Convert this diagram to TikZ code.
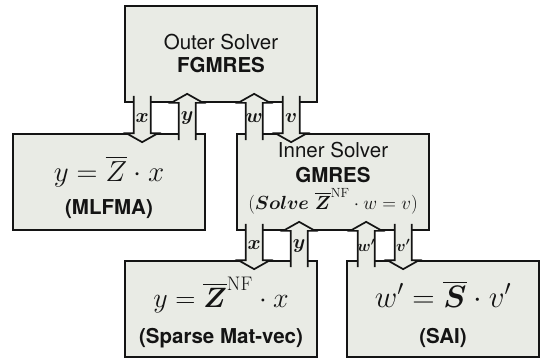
\RequirePackage{fix-cm}
\documentclass[tikz,border=0pt]{standalone}
\usepackage{amsmath,bm}
\usepackage{fontspec}
\setsansfont{TeX Gyre Heros}
\usetikzlibrary{calc}
\definecolor{boxfill}{HTML}{E9EBE5}
\definecolor{ink}{HTML}{141414}
\tikzset{
  every node/.style={text=ink, inner sep=0pt},
  solver/.style={draw=ink, line width=1.7pt, fill=boxfill,
                 minimum width=192pt, minimum height=96pt},
  pipe/.style={draw=ink, line width=1.7pt, fill=boxfill, line join=miter},
  txt/.style={anchor=base, font=\sffamily\fontsize{20.5}{23}\selectfont},
  txtb/.style={anchor=base, font=\sffamily\bfseries\fontsize{20.5}{23}\selectfont},
  eqn/.style={anchor=base, font=\fontsize{29}{32}\selectfont},
  pipelab/.style={font=\fontsize{20}{20}\selectfont},
}
% block arrow: from the upper box #1 down into the lower box #2,
% #3 = offset from the left side of #1, #4 = label name, #5 = label
\newcommand{\downpipe}[5]{%
  \draw[pipe] let \p1=(#1.south west), \p2=(#2.north) in
    (\x1+#3pt-8.5pt, \y1+7pt) -- (\x1+#3pt-8.5pt, \y2) -- (\x1+#3pt-16pt, \y2)
    -- (\x1+#3pt, \y2-9pt)
    -- (\x1+#3pt+16pt, \y2) -- (\x1+#3pt+8.5pt, \y2) -- (\x1+#3pt+8.5pt, \y1+7pt)
    node[pipelab] (#4) at (\x1+#3pt, {(\y1+\y2)/2}) {#5};}
% block arrow: from the lower box #2 up into the upper box #1
\newcommand{\uppipe}[5]{%
  \draw[pipe] let \p1=(#1.south west), \p2=(#2.north) in
    (\x1+#3pt-8.5pt, \y2-7pt) -- (\x1+#3pt-8.5pt, \y1) -- (\x1+#3pt-16pt, \y1)
    -- (\x1+#3pt, \y1+9pt)
    -- (\x1+#3pt+16pt, \y1) -- (\x1+#3pt+8.5pt, \y1) -- (\x1+#3pt+8.5pt, \y2-7pt)
    node[pipelab] (#4) at (\x1+#3pt, {(\y1+\y2)/2}) {#5};}

\begin{document}
\begin{tikzpicture}[x=1pt, y=1pt]
\useasboundingbox (0,0) rectangle (540,360);
% ---- grid (pt) ----------------------------------------------------------------
\def\xL{109} \def\xM{221} \def\xR{333} \def\xS{443}
\def\rT{306} \def\rM{178} \def\rB{51}

% ---- solver boxes -------------------------------------------------------------
\node[solver] (outer) at (\xM, \rT) {};
\node[solver] (mlfma) at (\xL, \rM) {};
\node[solver] (inner) at (\xR, \rM) {};
\node[solver] (spmv)  at (\xM, \rB) {};
\node[solver] (sai)   at (\xS, \rB) {};

% ---- box texts ----------------------------------------------------------------
\node[txt]  (outer-a) at ([yshift=-44pt]outer.north) {Outer Solver};
\node[txtb] (outer-b) at ([yshift=-67pt]outer.north) {FGMRES};
\node[eqn]  (mlfma-a) at ([yshift=-48pt]mlfma.north) {$y=\overline{Z}\cdot x$};
\node[txtb] (mlfma-b) at ([yshift=-81pt]mlfma.north) {(MLFMA)};
\node[txt]  (inner-a) at ([yshift=-24pt]inner.north) {Inner Solver};
\node[txtb] (inner-b) at ([yshift=-49pt]inner.north) {GMRES};
\node[anchor=base, font=\fontsize{19}{21}\selectfont] (inner-c) at ([yshift=-76pt]inner.north)
     {$(\bm{Solve}\ \overline{\bm{Z}}^{\mathrm{NF}}\cdot w=v)$};
\node[eqn, font=\fontsize{28}{30}\selectfont] (spmv-a) at ([yshift=-47pt]spmv.north)
     {$y=\overline{\bm{Z}}^{\mathrm{NF}}\cdot x$};
\node[txtb] (spmv-b)  at ([yshift=-83pt]spmv.north) {(Sparse Mat-vec)};
\node[eqn, font=\fontsize{31}{33}\selectfont] (sai-a) at ([yshift=-47pt]sai.north)
     {$w'=\overline{\bm{S}}\cdot v'$};
\node[txtb] (sai-b)   at ([yshift=-83pt]sai.north) {(SAI)};

% ---- outer <-> MLFMA, inner ---------------------------------------------------
\downpipe{outer}{mlfma}{18}{lx}{$\bm{x}$}
\uppipe{outer}{mlfma}{63}{ly}{$\bm{y}$}
\uppipe{outer}{inner}{130}{lw}{$\bm{w}$}
\downpipe{outer}{inner}{167}{lv}{$\bm{v}$}

% ---- inner <-> sparse mat-vec, SAI --------------------------------------------
\downpipe{inner}{spmv}{18}{lx2}{$\bm{x}$}
\uppipe{inner}{spmv}{63}{ly2}{$\bm{y}$}
\uppipe{inner}{sai}{130}{lw2}{\fontsize{16}{16}\selectfont$\bm{w'}$}
\downpipe{inner}{sai}{167}{lv2}{\fontsize{16}{16}\selectfont$\bm{v'}$}
\end{tikzpicture}
\end{document}
